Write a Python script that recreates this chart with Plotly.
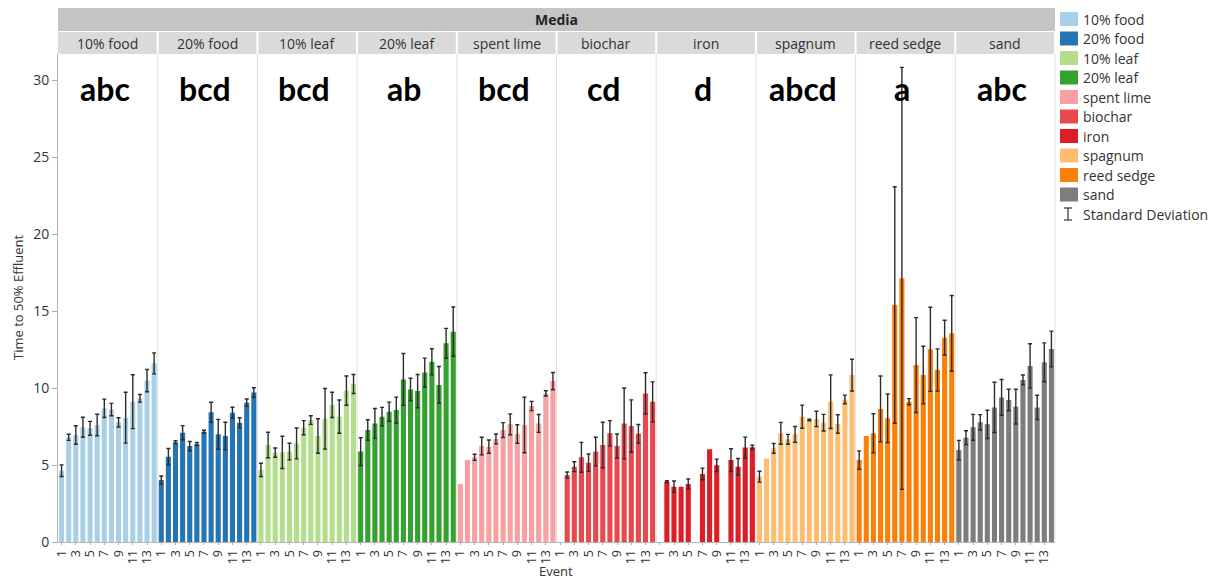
import plotly.graph_objects as go

# ---------------- data ----------------
events = list(range(1, 15))
media = ["10% food", "20% food", "10% leaf", "20% leaf", "spent lime",
         "biochar", "iron", "spagnum", "reed sedge", "sand"]
colors = ["#a9cfe6", "#2575b4", "#b3df8d", "#35a12f", "#f8a0a2",
          "#e8494e", "#dd1e26", "#fdbe72", "#fb800a", "#7d7d7d"]
letters = ["abc", "bcd", "bcd", "ab", "bcd", "cd", "d", "abcd", "a", "abc"]

food10 = [4.63, 6.80, 6.95, 7.45, 7.38, 7.60, 8.68, 8.60, 7.77, 8.07, 9.11, 9.33, 10.48, 11.60]
food10_sd = [0.38, 0.20, 0.60, 0.65, 0.45, 0.70, 0.60, 0.40, 0.30, 1.65, 1.75, 0.25, 0.72, 0.68]
food20 = [4.03, 5.54, 6.47, 7.10, 6.23, 6.36, 7.16, 8.42, 6.99, 6.88, 8.40, 7.75, 9.05, 9.70]
food20_sd = [0.26, 0.53, 0.10, 0.46, 0.30, 0.10, 0.10, 0.65, 0.97, 0.90, 0.35, 0.32, 0.24, 0.32]
leaf10 = [4.68, 6.30, 5.80, 5.82, 5.87, 6.40, 7.42, 7.92, 6.88, 8.00, 8.90, 8.14, 9.83, 10.26]
leaf10_sd = [0.43, 0.83, 0.30, 1.05, 0.54, 1.00, 0.46, 0.28, 1.12, 1.97, 0.82, 1.08, 0.95, 0.62]
leaf20 = [5.87, 7.27, 7.70, 8.14, 8.46, 8.57, 10.56, 9.91, 9.80, 11.00, 11.70, 10.20, 12.90, 13.66]
leaf20_sd = [0.90, 0.67, 0.97, 0.60, 0.62, 0.84, 1.68, 0.72, 1.08, 0.94, 0.85, 1.20, 0.97, 1.60]
lime = [3.77, 5.32, 5.50, 6.23, 6.19, 6.69, 7.27, 7.64, 7.01, 7.60, 8.83, 7.70, 9.65, 10.45]
lime_sd = [None, None, 0.20, 0.57, 0.43, 0.32, 0.48, 0.68, 0.60, 1.80, 0.30, 0.58, 0.17, 0.56]
biochar = [None, 4.35, 4.89, 5.50, 5.15, 5.87, 6.30, 7.06, 6.23, 7.70, 7.53, 7.03, 9.65, 9.10]
biochar_sd = [None, 0.20, 0.32, 0.97, 0.56, 0.93, 1.48, 0.82, 0.78, 2.30, 1.70, 0.60, 1.34, 1.30]
iron = [None, 3.92, 3.59, 3.59, 3.77, None, 4.42, 6.02, 4.98, None, 5.32, 4.89, 6.13, 6.15]
iron_sd = [None, 0.06, 0.37, None, 0.32, None, 0.38, None, 0.40, None, 0.74, 0.53, 0.68, 0.13]
spagnum = [4.24, 5.43, 6.08, 7.06, 6.67, 6.99, 8.14, 7.92, 7.99, 7.75, 9.11, 7.66, 9.26, 10.84]
spagnum_sd = [0.35, None, 0.32, 0.71, 0.32, 0.51, 0.75, 0.05, 0.50, 0.54, 1.74, 0.60, 0.28, 1.03]
reed = [5.32, 6.88, 7.06, 8.64, 8.03, 15.39, 17.12, 9.11, 11.49, 10.84, 12.51, 11.17, 13.27, 13.55]
reed_sd = [0.60, None, 1.27, 2.14, 1.58, 7.68, 13.70, 0.20, 3.08, 1.87, 2.73, 1.37, 1.13, 2.46]
sand = [5.97, 6.77, 7.45, 7.77, 7.64, 8.74, 9.39, 9.22, 8.79, 10.52, 11.43, 8.74, 11.67, 12.53]
sand_sd = [0.63, 0.45, 0.84, 0.50, 0.92, 1.63, 1.16, 0.70, 1.13, 0.32, 1.44, 0.79, 1.26, 1.16]

values = [food10, food20, leaf10, leaf20, lime, biochar, iron, spagnum, reed, sand]
sds = [food10_sd, food20_sd, leaf10_sd, leaf20_sd, lime_sd, biochar_sd, iron_sd,
       spagnum_sd, reed_sd, sand_sd]

y_ticks = [0, 5, 10, 15, 20, 25, 30]
x_ticks = [1, 3, 5, 7, 9, 11, 13]

# ---------------- layout geometry ----------------
W, H = 1215, 579
L, R, T, B = 58, 1055, 54, 542
PW, PH = R - L, B - T
n = len(media)


def px(x):
    return (x - L) / PW


def py(y):
    return (B - y) / PH


FONT = "Open Sans"
TXT = "#333333"

fig = go.Figure()
layout = dict(
    width=W, height=H,
    margin=dict(l=L, r=W - R, t=T, b=H - B, pad=0),
    paper_bgcolor="white", plot_bgcolor="white",
    barmode="overlay", showlegend=False,
    font=dict(family=FONT, size=13, color=TXT),
)

shapes = []
annotations = []

for i, name in enumerate(media):
    ax = "x" if i == 0 else f"x{i + 1}"
    axkey = "xaxis" if i == 0 else f"xaxis{i + 1}"
    vals, sd = values[i], sds[i]
    xe, ye, ee, xn, yn = [], [], [], [], []
    for ev, v, s in zip(events, vals, sd):
        if v is None:
            continue
        if s is None:
            xn.append(ev); yn.append(v)
        else:
            xe.append(ev); ye.append(v); ee.append(s)
    fig.add_trace(go.Bar(
        x=xe, y=ye, xaxis=ax, yaxis="y", width=0.72,
        marker=dict(color=colors[i], line=dict(width=0)),
        error_y=dict(type="data", array=ee, visible=True, color="#2b2b2b",
                     thickness=1.4, width=2),
        name=name, hovertemplate="Event %{x}: %{y}<extra>" + name + "</extra>",
    ))
    if xn:
        fig.add_trace(go.Bar(
            x=xn, y=yn, xaxis=ax, yaxis="y", width=0.72,
            marker=dict(color=colors[i], line=dict(width=0)),
            name=name, hovertemplate="Event %{x}: %{y}<extra>" + name + "</extra>",
        ))
    d0, d1 = i / n, (i + 1) / n
    layout[axkey] = dict(
        domain=[d0, d1], range=[0.5, 14.5], anchor="y",
        tickmode="array", tickvals=x_ticks, ticktext=[str(t) for t in x_ticks],
        tickangle=-90, ticks="outside", ticklen=2, tickcolor="#aaaaaa",
        tickfont=dict(size=12.5, color=TXT, family=FONT),
        showline=True, linecolor="#b5b5b5", linewidth=1,
        showgrid=False, zeroline=False, fixedrange=True,
    )
    # panel separator line
    shapes.append(dict(type="line", xref="paper", yref="paper",
                       x0=d1, x1=d1, y0=0, y1=1,
                       line=dict(color="#e0e0e0", width=1)))
    # facet label box
    shapes.append(dict(type="rect", xref="paper", yref="paper",
                       x0=d0 + px(L + 1) if i else d0, x1=d1 - 1 / PW,
                       y0=py(54), y1=py(32),
                       fillcolor="#dadada", line=dict(width=0)))
    annotations.append(dict(text=name, xref="paper", yref="paper",
                            x=(d0 + d1) / 2, y=py(43), showarrow=False,
                            xanchor="center", yanchor="middle",
                            font=dict(size=14, color=TXT, family=FONT)))
    annotations.append(dict(text="<b>" + letters[i] + "</b>", xref="paper", yref="paper",
                            x=(d0 + d1) / 2 - 0.003, y=py(88), showarrow=False,
                            xanchor="center", yanchor="middle",
                            font=dict(size=32, color="black", family="Lato")))

layout["yaxis"] = dict(
    domain=[0, 1], range=[0, (B - T) / 15.4], anchor="x",
    tickmode="array", tickvals=y_ticks, ticks="outside", ticklen=5,
    tickcolor="#aaaaaa", tickfont=dict(size=14, color=TXT, family=FONT),
    showline=True, linecolor="#b5b5b5", linewidth=1,
    showgrid=False, zeroline=False, fixedrange=True,
)

# Media header band
shapes.append(dict(type="rect", xref="paper", yref="paper",
                   x0=0, x1=1, y0=py(31), y1=py(8),
                   fillcolor="#c4c4c4", line=dict(width=0)))
annotations.append(dict(text="<b>Media</b>", xref="paper", yref="paper",
                        x=0.5, y=py(19.5), showarrow=False,
                        xanchor="center", yanchor="middle",
                        font=dict(size=14, color="#222222", family=FONT)))

# axis titles
annotations.append(dict(text="Time to 50% Effluent", xref="paper", yref="paper",
                        x=px(18), y=py(298), showarrow=False, textangle=-90,
                        xanchor="center", yanchor="middle",
                        font=dict(size=13, color=TXT, family=FONT)))
annotations.append(dict(text="Event", xref="paper", yref="paper",
                        x=px(556), y=py(571), showarrow=False,
                        xanchor="center", yanchor="middle",
                        font=dict(size=13, color=TXT, family=FONT)))

# legend (manual)
lx0, lx1 = 1060, 1078
for k, name in enumerate(media):
    cy = 19 + k * 19.5
    shapes.append(dict(type="rect", xref="paper", yref="paper",
                       x0=px(lx0), x1=px(lx1), y0=py(cy + 7), y1=py(cy - 7),
                       fillcolor=colors[k], line=dict(width=0)))
    annotations.append(dict(text=name, xref="paper", yref="paper",
                            x=px(1081), y=py(cy), showarrow=False,
                            xanchor="left", yanchor="middle",
                            font=dict(size=14, color=TXT, family=FONT)))
cy = 19 + n * 19.5
ix = 1068
for seg in [(ix, cy - 6, ix, cy + 6), (ix - 4, cy - 6, ix + 4, cy - 6),
            (ix - 4, cy + 6, ix + 4, cy + 6)]:
    shapes.append(dict(type="line", xref="paper", yref="paper",
                       x0=px(seg[0]), x1=px(seg[2]), y0=py(seg[1]), y1=py(seg[3]),
                       line=dict(color="#333333", width=1.2)))
annotations.append(dict(text="Standard Deviation", xref="paper", yref="paper",
                        x=px(1081), y=py(cy), showarrow=False,
                        xanchor="left", yanchor="middle",
                        font=dict(size=14, color=TXT, family=FONT)))

layout["shapes"] = shapes
layout["annotations"] = annotations
fig.update_layout(**layout)
fig.write_html("out.html")
